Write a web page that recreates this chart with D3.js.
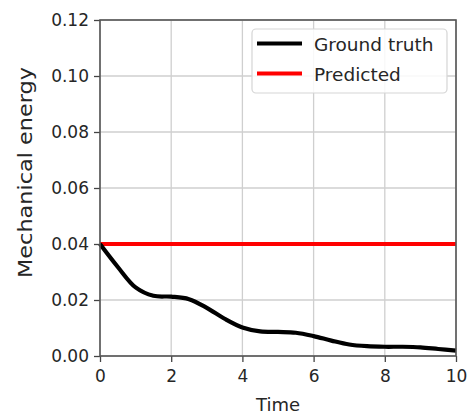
<!DOCTYPE html>
<html>
<head>
<meta charset="utf-8">
<script src="https://cdn.jsdelivr.net/npm/d3@7"></script>
<style>
  html, body { margin: 0; padding: 0; background: #fff; }
  svg { display: block; }
  text { font-family: "DejaVu Sans", sans-serif; fill: #262626; }
</style>
</head>
<body>
<svg id="chart" width="467" height="415"></svg>
<script>
const times = [0, 0.5, 1, 1.5, 2, 2.5, 3, 3.5, 4, 4.5, 5, 5.5, 6, 6.5, 7, 7.5, 8, 8.5, 9, 9.5, 10];
const groundTruth = [0.040, 0.0318, 0.0245, 0.0215, 0.0212, 0.0203, 0.0172, 0.0133, 0.0102, 0.0088, 0.0086, 0.0083, 0.0071, 0.0055, 0.0041, 0.0035, 0.0033, 0.0033, 0.0031, 0.0025, 0.0019];
const predicted = [0.04, 0.04, 0.04, 0.04, 0.04, 0.04, 0.04, 0.04, 0.04, 0.04, 0.04, 0.04, 0.04, 0.04, 0.04, 0.04, 0.04, 0.04, 0.04, 0.04, 0.04];
const xTicks = [0, 2, 4, 6, 8, 10];
const yTicks = [0.00, 0.02, 0.04, 0.06, 0.08, 0.10, 0.12];
const seriesNames = ["Ground truth", "Predicted"];
const seriesColors = ["#000000", "#ff0000"];

const svg = d3.select("#chart");
const m = { left: 100, top: 20, right: 467 - 456, bottom: 415 - 356 };
const W = 467 - m.left - m.right, H = 415 - m.top - m.bottom;

const x = d3.scaleLinear().domain([0, 10]).range([m.left, m.left + W]);
const y = d3.scaleLinear().domain([0, 0.12]).range([m.top + H, m.top]);

// grid
const grid = svg.append("g");
grid.selectAll("line.gx").data(xTicks).join("line")
  .attr("x1", d => x(d)).attr("x2", d => x(d))
  .attr("y1", m.top).attr("y2", m.top + H)
  .attr("stroke", "#cfcfcf").attr("stroke-width", 1.3);
grid.selectAll("line.gy").data(yTicks).join("line")
  .attr("x1", m.left).attr("x2", m.left + W)
  .attr("y1", d => y(d)).attr("y2", d => y(d))
  .attr("stroke", "#cfcfcf").attr("stroke-width", 1.3);

// lines
const line = d3.line().x(d => x(d[0])).y(d => y(d[1])).curve(d3.curveCatmullRom.alpha(0.5));
svg.append("path").datum(times.map((t, i) => [t, predicted[i]]))
  .attr("d", line).attr("fill", "none").attr("stroke", seriesColors[1]).attr("stroke-width", 4);
svg.append("path").datum(times.map((t, i) => [t, groundTruth[i]]))
  .attr("d", line).attr("fill", "none").attr("stroke", seriesColors[0]).attr("stroke-width", 4.2)
  .attr("stroke-linejoin", "round");

// axes
const fmtY = d3.format(".2f");
const xAxis = svg.append("g").attr("transform", `translate(0,${m.top + H})`)
  .call(d3.axisBottom(x).tickValues(xTicks).tickSize(6).tickPadding(4).tickFormat(d3.format("d")));
const yAxis = svg.append("g").attr("transform", `translate(${m.left},0)`)
  .call(d3.axisLeft(y).tickValues(yTicks).tickSize(6).tickPadding(5).tickFormat(fmtY));
[xAxis, yAxis].forEach(a => {
  a.selectAll("path.domain").remove();
  a.selectAll(".tick line").attr("stroke", "#444").attr("stroke-width", 1.3);
  a.selectAll(".tick text").attr("font-size", 17).attr("font-family", "DejaVu Sans").attr("fill", "#2a2a2a");
});
xAxis.selectAll(".tick text").attr("dy", "0.95em");

// spines
svg.append("rect").attr("x", m.left).attr("y", m.top).attr("width", W).attr("height", H)
  .attr("fill", "none").attr("stroke", "#555").attr("stroke-width", 1.6);

// labels
svg.append("text").attr("x", x(5)).attr("y", 411).attr("text-anchor", "middle")
  .attr("font-size", 18).text("Time");
svg.append("text").attr("transform", "translate(32,172.5) rotate(-90)")
  .attr("text-anchor", "middle").attr("font-size", 19.5)
  .attr("textLength", 211).attr("lengthAdjust", "spacingAndGlyphs").text("Mechanical energy");

// legend
const lg = svg.append("g");
lg.append("rect").attr("x", 252).attr("y", 29).attr("width", 195).attr("height", 64)
  .attr("rx", 4).attr("fill", "rgba(255,255,255,0.85)").attr("stroke", "#d5d5d5").attr("stroke-width", 1.2);
seriesNames.forEach((name, i) => {
  const cy = 43.5 + i * 30;
  lg.append("line").attr("x1", 257).attr("x2", 302).attr("y1", cy).attr("y2", cy)
    .attr("stroke", seriesColors[i]).attr("stroke-width", 4.2);
  lg.append("text").attr("x", 314).attr("y", cy + 7).attr("font-size", 18.5).text(name);
});
</script>
</body>
</html>
